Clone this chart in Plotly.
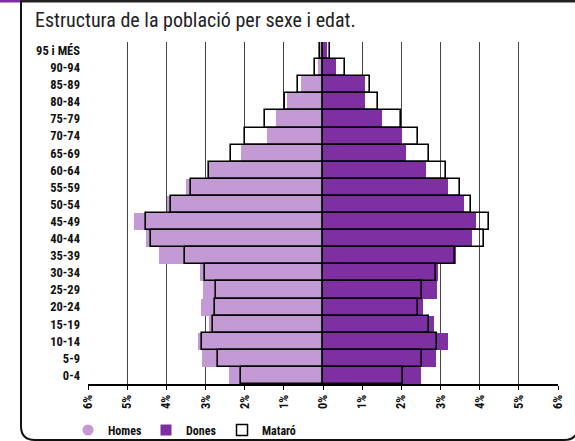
import plotly.graph_objects as go

# ---- data (bottom to top) ----
age_groups = ['0-4', '5-9', '10-14', '15-19', '20-24', '25-29', '30-34', '35-39',
              '40-44', '45-49', '50-54', '55-59', '60-64', '65-69', '70-74',
              '75-79', '80-84', '85-89', '90-94', '95 i MÉS']
homes = [2.40, 3.08, 3.20, 2.91, 3.11, 3.07, 3.13, 4.19, 4.52, 4.82,
         3.98, 3.51, 2.90, 2.10, 1.43, 1.21, 0.92, 0.56, 0.13, 0.07]
dones = [2.51, 2.89, 3.19, 2.84, 2.56, 2.90, 2.93, 3.40, 3.81, 3.91,
         3.60, 3.20, 2.62, 2.12, 2.01, 1.51, 1.07, 1.07, 0.34, 0.11]
mataro_homes = [2.09, 2.68, 3.08, 2.80, 2.77, 2.74, 3.01, 3.52, 4.40, 4.52,
                3.89, 3.36, 2.91, 2.35, 1.98, 1.47, 0.96, 0.64, 0.20, 0.07]
mataro_dones = [2.03, 2.52, 2.91, 2.70, 2.42, 2.52, 2.88, 3.38, 4.12, 4.24,
                3.77, 3.49, 3.13, 2.71, 2.43, 1.99, 1.40, 1.20, 0.57, 0.18]
tick_values = [-6, -5, -4, -3, -2, -1, 0, 1, 2, 3, 4, 5, 6]
tick_labels = ['6%', '5%', '4%', '3%', '2%', '1%', '0%', '1%', '2%', '3%', '4%', '5%', '6%']
series_names = ['Homes', 'Dones', 'Mataró']

LIGHT = '#C39AD4'
DARK = '#7E2FA2'
FONT = ('Noto Sans Condensed, Roboto Condensed, Liberation Sans Narrow, '
        'DejaVu Sans Condensed, sans-serif')

L, R, T, B = 88, 17, 42, 57
W, H = 575, 441
PW, PH = W - L - R, H - T - B


def px(x):
    return (x - L) / PW


def py(y):
    return (H - B - y) / PH


fig = go.Figure()
fig.add_trace(go.Bar(y=age_groups, x=[-v for v in homes], orientation='h', width=1,
                     marker=dict(color=LIGHT, line=dict(width=0)), showlegend=False))
fig.add_trace(go.Bar(y=age_groups, x=dones, orientation='h', width=1,
                     marker=dict(color=DARK, line=dict(width=0)), showlegend=False))
fig.add_trace(go.Bar(y=age_groups, x=[-v for v in mataro_homes], orientation='h', width=1,
                     marker=dict(color='rgba(0,0,0,0)', line=dict(color='black', width=1.6)),
                     showlegend=False))
fig.add_trace(go.Bar(y=age_groups, x=mataro_dones, orientation='h', width=1,
                     marker=dict(color='rgba(0,0,0,0)', line=dict(color='black', width=1.6)),
                     showlegend=False))

# legend entries, each in its own legend so it can be placed like the reference
fig.add_trace(go.Scatter(x=[None], y=[None], mode='markers', name=series_names[0],
                         legend='legend',
                         marker=dict(symbol='circle', size=11, color=LIGHT)))
fig.add_trace(go.Scatter(x=[None], y=[None], mode='markers', name=series_names[1],
                         legend='legend2',
                         marker=dict(symbol='square', size=11, color=DARK)))
fig.add_trace(go.Scatter(x=[None], y=[None], mode='markers', name=series_names[2],
                         legend='legend3',
                         marker=dict(symbol='square', size=11, color='white',
                                     line=dict(color='black', width=1.5))))

frame_path = (f"M {px(21)},{py(-2)} L {px(21)},{py(426)} "
              f"Q {px(21)},{py(440)} {px(35)},{py(440)} "
              f"L {px(564)},{py(440)} Q {px(578)},{py(440)} {px(578)},{py(426)}")

shapes = [
    dict(type='path', xref='paper', yref='paper', path=frame_path,
         line=dict(color='#111', width=2)),
    dict(type='rect', xref='paper', yref='paper', x0=px(0), x1=px(20), y0=py(0), y1=py(2.5),
         fillcolor=DARK, line=dict(width=0)),
    dict(type='rect', xref='paper', yref='paper', x0=px(20), x1=px(576), y0=py(0), y1=py(2.5),
         fillcolor='#222', line=dict(width=0)),
]

leg_font = dict(family=FONT, size=12, weight='bold', color='#111')


def leg(xpix):
    return dict(orientation='h', x=px(xpix), xanchor='left', y=py(430), yanchor='middle',
                font=leg_font, bgcolor='rgba(0,0,0,0)', borderwidth=0)


tick_font = dict(family=FONT, size=12.5, weight='bold', color='#111')

fig.update_layout(
    width=W, height=H,
    margin=dict(l=L, r=R, t=T, b=B, autoexpand=False),
    barmode='overlay',
    bargap=0,
    plot_bgcolor='white', paper_bgcolor='white',
    font=dict(family=FONT, size=12, color='#111'),
    title=dict(text='Estructura de la població per sexe i edat.', xref='container', yref='container',
               x=35 / W, xanchor='left', y=1 - 20 / H, yanchor='middle',
               font=dict(family=FONT, size=20, color='#222')),
    xaxis=dict(range=[-6, 6], tickvals=tick_values, ticktext=tick_labels, tickangle=-90,
               showgrid=True, gridcolor='#444', gridwidth=1, zeroline=False,
               showline=True, linecolor='black', linewidth=1.5, automargin=False,
               ticks='outside', ticklen=4, tickcolor='black', tickfont=tick_font),
    yaxis=dict(type='category', categoryorder='array', categoryarray=age_groups,
               range=[-0.5, 19.5], showgrid=False, zeroline=False, showline=False,
               automargin=False, ticks='', ticklabelstandoff=7, tickfont=tick_font),
    legend=leg(68),
    legend2=leg(146),
    legend3=leg(222),
    shapes=shapes,
)

fig.write_html('out.html', config={'displayModeBar': False},
               post_script="document.body.style.margin='0';")
